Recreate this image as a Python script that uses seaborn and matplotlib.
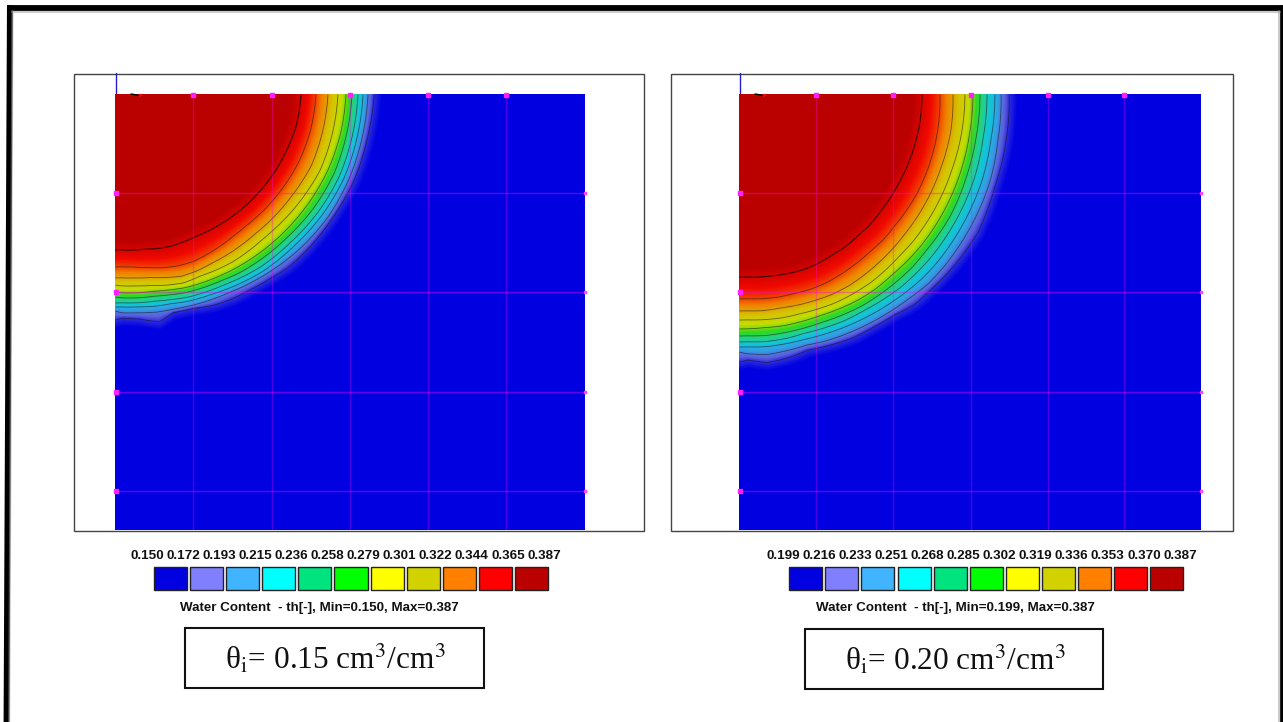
import numpy as np
import matplotlib
matplotlib.use("Agg")
import matplotlib.pyplot as plt
import seaborn as sns
from matplotlib.colors import LinearSegmentedColormap, ListedColormap
from matplotlib.patches import Rectangle

# legend colours and labels
swatch_colors = ['#0000e0', '#8080ff', '#40b4ff', '#00ffff', '#00e480', '#00ff00',
                 '#ffff00', '#d2d200', '#ff8000', '#ff0000', '#bb0000']
# the same classes as they look once blended in the field
field_colors = ['#0000e0', '#5c5cdc', '#30a0e4', '#12c4d8', '#20d090', '#30d820',
                '#c4dc00', '#d4c400', '#f08000', '#f00800', '#bb0000']
labels_a = ['0.150', '0.172', '0.193', '0.215', '0.236', '0.258',
            '0.279', '0.301', '0.322', '0.344', '0.365', '0.387']
labels_b = ['0.199', '0.216', '0.233', '0.251', '0.268', '0.285',
            '0.302', '0.319', '0.336', '0.353', '0.370', '0.387']

# rays from the emitter, degrees from the surface
ray_angles = [0, 10, 20, 30, 40, 45, 50, 55, 60, 65, 70, 75, 79, 84, 88, 90]

# radius of each contour along the rays, outer contour first
front_a = [
    [259, 256, 254, 250, 247, 245, 241, 238, 236, 233, 228, 226, 232, 226, 224, 226],
    [253, 251, 249, 246, 241, 238, 235, 232, 229, 227, 225, 223, 222, 220, 219, 217],
    [248, 246, 244, 240, 235, 233, 231, 228, 225, 222, 220, 217, 216, 214, 213, 213],
    [243, 241, 239, 235, 230, 228, 226, 223, 220, 218, 216, 213, 211, 210, 209, 209],
    [237, 235, 233, 229, 224, 222, 220, 218, 215, 213, 211, 208, 206, 205, 204, 203],
    [231, 229, 226, 222, 218, 216, 214, 212, 210, 208, 206, 203, 201, 200, 199, 198],
    [223, 221, 219, 214, 209, 207, 206, 205, 203, 201, 201, 198, 195, 193, 192, 191],
    [213, 211, 209, 204, 200, 198, 197, 196, 195, 195, 194, 190, 187, 185, 184, 184],
    [201, 199, 196, 192, 188, 186, 185, 185, 185, 185, 183, 180, 177, 174, 173, 173],
    [186, 184, 180, 176, 172, 170, 168, 166, 164, 163, 162, 160, 158, 157, 156, 156],
]
front_b = [
    [270, 271, 272, 276, 275, 274, 274, 270, 269, 269, 267, 265, 268, 270, 266, 268],
    [262, 263, 266, 267, 268, 268, 266, 265, 264, 263, 262, 260, 261, 262, 260, 258],
    [256, 256, 258, 259, 260, 260, 259, 258, 257, 256, 255, 254, 254, 254, 253, 253],
    [248, 248, 250, 251, 252, 252, 252, 251, 250, 250, 249, 248, 249, 249, 248, 248],
    [241, 241, 242, 244, 244, 245, 245, 245, 245, 244, 243, 243, 243, 243, 242, 242],
    [234, 234, 235, 236, 237, 237, 237, 238, 238, 237, 236, 236, 236, 235, 235, 235],
    [226, 226, 226, 227, 228, 228, 229, 230, 230, 230, 229, 228, 228, 227, 226, 226],
    [214, 215, 215, 216, 217, 218, 219, 220, 221, 221, 220, 219, 218, 218, 217, 217],
    [201, 202, 203, 204, 204, 205, 205, 206, 207, 208, 208, 207, 207, 206, 205, 205],
    [183, 183, 183, 183, 184, 185, 185, 186, 186, 187, 187, 186, 185, 184, 183, 183],
]
glow_width = 17
core_width = 18

W, H = 1283, 722
sns.set_theme(style="white")
plt.rcParams['font.family'] = ['Liberation Sans', 'DejaVu Sans']
plt.rcParams['mathtext.fontset'] = 'stix'

fig = plt.figure(figsize=(W / 100, H / 100), dpi=100, facecolor='white')

# overlay in pixel coords for frames and text
bg = fig.add_axes([0, 0, 1, 1])
bg.set_xlim(0, W)
bg.set_ylim(H, 0)
bg.axis('off')


def px_axes(left, top, right, bottom):
    return fig.add_axes([left / W, 1 - bottom / H, (right - left) / W, (bottom - top) / H])


# each colour sits in the middle of its class
nodes = [0] + [(i + 0.5) / 11 for i in range(11)] + [1]
node_cols = [field_colors[0]] + field_colors + [field_colors[-1]]
field_cmap = LinearSegmentedColormap.from_list('wc', list(zip(nodes, node_cols)), N=512)


def draw_field(ax, front, nx, ny, grid_x, grid_y):
    steps = np.arange(1, 11) / 11
    radii = [np.array(front[0]) + glow_width]
    levels = [0.0]
    for k in range(10):
        radii.append(np.array(front[k], dtype=float))
        levels.append(steps[k])
    radii.append(np.array(front[-1]) - core_width)
    levels.append(1.0)

    X, Y = np.meshgrid(np.arange(nx) + 0.5, np.arange(ny) + 0.5)
    r = np.hypot(X, Y)
    phi = np.degrees(np.arctan2(Y, X))
    R = [np.interp(phi, ray_angles, rr) for rr in radii]
    field = np.zeros_like(r)
    field[r <= R[-1]] = 1.0
    for k in range(len(R) - 1):
        m = (r <= R[k]) & (r > R[k + 1])
        t = (R[k][m] - r[m]) / (R[k][m] - R[k + 1][m])
        field[m] = levels[k] + t * (levels[k + 1] - levels[k])

    sns.heatmap(field, ax=ax, cmap=field_cmap, vmin=0, vmax=1, cbar=False,
                xticklabels=False, yticklabels=False)
    ax.contour(X, Y, field, levels=steps[:9], colors='#181818', linewidths=0.6, alpha=0.6)
    ax.contour(X, Y, field, levels=steps[9:], colors='#200000', linewidths=0.8, alpha=0.85)
    ax.set_xlim(0, nx)
    ax.set_ylim(ny, 0)

    # mesh lines and their nodes
    for gx in grid_x:
        ax.axvline(gx, color='#ff00ff', lw=1, alpha=0.3)
        ax.plot([gx], [0.5], 's', ms=2.2, color='#ff20ff', clip_on=False)
    for gy in grid_y:
        ax.axhline(gy, color='#ff00ff', lw=1, alpha=0.4)
        ax.plot([0.5], [gy], 's', ms=2.6, color='#ff20ff', clip_on=False)
        ax.plot([nx], [gy], 's', ms=1.6, color='#ff40ff', clip_on=False)
    ax.plot([16, 22, 27], [0, 1, 3], color='black', lw=1, clip_on=False)
    ax.plot([25], [1], 'x', ms=2, color='red', clip_on=False)


def draw_legend(ax, labels, label_left, label_right, caption, caption_x):
    sns.heatmap([list(range(11))], ax=ax, cmap=ListedColormap(swatch_colors), cbar=False,
                xticklabels=False, yticklabels=False, linewidths=2.1, linecolor='white')
    for k in range(11):
        ax.add_patch(Rectangle((k + 0.042, 0.058), 0.916, 0.884, fill=False,
                               edgecolor='#222222', lw=1, clip_on=False))
    xs = np.linspace(label_left, label_right, 12)
    for x, t in zip(xs, labels):
        bg.text(x, 556, t, ha='center', va='center', fontsize=9.7, fontweight='bold', color='#111111')
    bg.text(caption_x, 608.5, caption, ha='center', va='center', fontsize=9.6,
            fontweight='bold', color='#111111')


def draw_box(left, right, top, bottom, tx, value):
    bg.add_patch(Rectangle((left, top), right - left, bottom - top, fill=False,
                           edgecolor='#111111', lw=1.5))
    bg.text(tx, (top + bottom) / 2 + 1, 'θ$_{\\mathrm{i}}$= ' + value + ' cm$^{3}$/cm$^{3}$',
            ha='center', va='center', fontsize=22.5, family='Liberation Serif', color='#111111')


# page frame, open at the bottom and a little skewed
bg.plot([9.9, 6.5], [5, 722], color='black', lw=4.2, solid_capstyle='butt')
bg.plot([7, 1283], [8, 8], color='black', lw=4.2, solid_capstyle='butt')
bg.plot([1281.5, 1281.5], [5, 722], color='black', lw=3.4, solid_capstyle='butt')
bg.plot([12.5, 9.2], [11, 722], color='#999999', lw=1.5, alpha=0.5)
bg.plot([12, 1280], [11.5, 11.5], color='#999999', lw=1.5, alpha=0.5)
bg.plot([1278.8, 1278.8], [11, 722], color='#999999', lw=1.5, alpha=0.5)

# plot frames
bg.add_patch(Rectangle((73.5, 73.5), 570.5, 457, fill=False, edgecolor='#444444', lw=1))
bg.add_patch(Rectangle((670.5, 73.5), 562, 457, fill=False, edgecolor='#444444', lw=1))
bg.plot([115.5, 115.5], [73, 94], color='#2020d0', lw=1)
bg.plot([739.5, 739.5], [73, 94], color='#2020d0', lw=1)

ax_a = px_axes(115, 94, 585, 530)
draw_field(ax_a, front_a, 470, 436, [78.3, 156.6, 235, 313, 391], [99, 198, 298, 397])
ax_b = px_axes(739, 94, 1201, 530)
draw_field(ax_b, front_b, 462, 436, [77, 154, 232, 309, 385], [99, 198, 298, 397])

draw_legend(px_axes(152.7, 565.8, 549.3, 591.5), labels_a, 147, 544,
            'Water Content  - th[-], Min=0.150, Max=0.387', 319)
draw_legend(px_axes(787.8, 565.8, 1184.5, 591.5), labels_b, 783, 1180,
            'Water Content  - th[-], Min=0.199, Max=0.387', 955)

draw_box(185, 484, 628, 688, 335, '0.15')
draw_box(805, 1103, 629, 689, 955, '0.20')

fig.savefig('out.png', dpi=100, facecolor='white')
